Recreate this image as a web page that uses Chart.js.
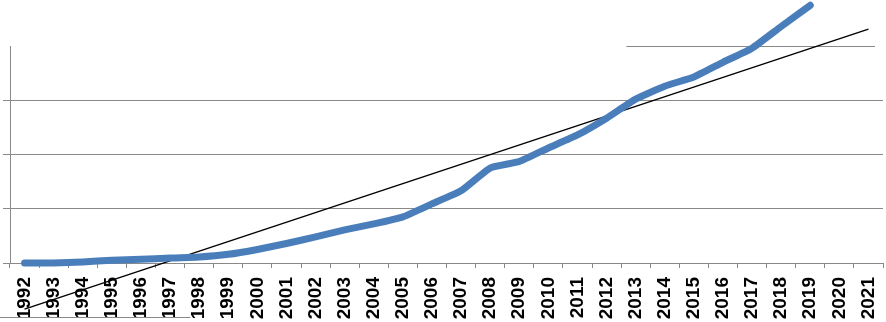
<!DOCTYPE html>
<html>
<head>
<meta charset="utf-8">
<script src="https://cdn.jsdelivr.net/npm/chart.js@4/dist/chart.umd.min.js"></script>
<style>
    html, body { margin: 0; padding: 0; background: #ffffff; }
    #wrap { width: 886px; height: 322px; position: relative; overflow: hidden; }
</style>
</head>
<body>
<div id="wrap"><canvas id="trendGrafigi" width="886" height="322"></canvas></div>
<script>
const yillar = ['1992', '1993', '1994', '1995', '1996', '1997', '1998', '1999', '2000', '2001',
    '2002', '2003', '2004', '2005', '2006', '2007', '2008', '2009', '2010', '2011',
    '2012', '2013', '2014', '2015', '2016', '2017', '2018', '2019', '2020', '2021'];

const degerler = [0, 0, 0.02, 0.05, 0.07, 0.09, 0.11, 0.16, 0.25, 0.36,
    0.48, 0.61, 0.72, 0.85, 1.09, 1.33, 1.75, 1.87, 2.12, 2.36,
    2.67, 3.02, 3.26, 3.43, 3.70, 3.96, 4.36, 4.75, null, null];

// linear trend, only the two ends are given
const trendUclari = [-0.85, null, null, null, null, null, null, null, null, null,
    null, null, null, null, null, null, null, null, null, null,
    null, null, null, null, null, null, null, null, null, 4.31];

const yEksenMin = 0;
const yEksenMax = 4;
const yAdim = 1;

const gridRengi = '#898989';

// top gridline is only partly visible, bottom one under the labels too
const kismiCizgiler = {
    id: 'kismiCizgiler',
    beforeDatasetsDraw(chart) {
        const ctx = chart.ctx;
        const x = chart.scales.x;
        const y = chart.scales.y;
        const area = chart.chartArea;
        ctx.save();
        ctx.strokeStyle = gridRengi;
        ctx.lineWidth = 1;
        const ust = Math.round(y.getPixelForValue(yEksenMax)) + 0.5;
        ctx.beginPath();
        ctx.moveTo(area.left + (area.right - area.left) * 0.706, ust);
        ctx.lineTo(area.right - 8, ust);
        ctx.stroke();
        const alt = Math.round(y.getPixelForValue(yEksenMin - yAdim)) + 0.5;
        ctx.beginPath();
        ctx.moveTo(0, alt);
        ctx.lineTo(x.getPixelForValue(5.7), alt);
        ctx.stroke();
        ctx.restore();
    }
};

new Chart(document.getElementById('trendGrafigi').getContext('2d'), {
    type: 'line',
    data: {
        labels: yillar,
        datasets: [{
            label: 'Seri',
            data: degerler,
            borderColor: '#4a7ebb',
            borderWidth: 7,
            borderCapStyle: 'round',
            borderJoinStyle: 'round',
            tension: 0.15,
            pointRadius: 0,
            fill: false,
            clip: false
        }, {
            label: 'Trend',
            data: trendUclari,
            borderColor: '#000000',
            borderWidth: 1.4,
            pointRadius: 0,
            spanGaps: true,
            fill: false,
            clip: false
        }]
    },
    options: {
        responsive: false,
        animation: false,
        events: [],
        layout: { padding: { top: 46, left: 3, right: 3, bottom: 0 } },
        plugins: {
            legend: { display: false },
            tooltip: { enabled: false }
        },
        scales: {
            x: {
                offset: true,
                afterFit: function (scale) {
                    scale.height = 59;
                    scale.paddingLeft = 0;
                    scale.paddingRight = 0;
                },
                border: { display: true, color: gridRengi, width: 1 },
                grid: {
                    display: true,
                    offset: true,
                    drawOnChartArea: false,
                    drawTicks: true,
                    tickLength: 5,
                    color: gridRengi
                },
                ticks: {
                    autoSkip: false,
                    minRotation: 90,
                    maxRotation: 90,
                    padding: 9,
                    color: '#000000',
                    font: { family: '"Liberation Sans", Arial, sans-serif', size: 19, weight: 'bold' }
                }
            },
            y: {
                min: yEksenMin,
                max: yEksenMax,
                border: { display: true, color: gridRengi, width: 1 },
                grid: {
                    drawTicks: true,
                    tickLength: 7,
                    color: ctx => ctx.tick && ctx.tick.value === yEksenMax ? 'rgba(0,0,0,0)' : gridRengi
                },
                ticks: { display: false, stepSize: yAdim }
            }
        }
    },
    plugins: [kismiCizgiler]
});
</script>
</body>
</html>
